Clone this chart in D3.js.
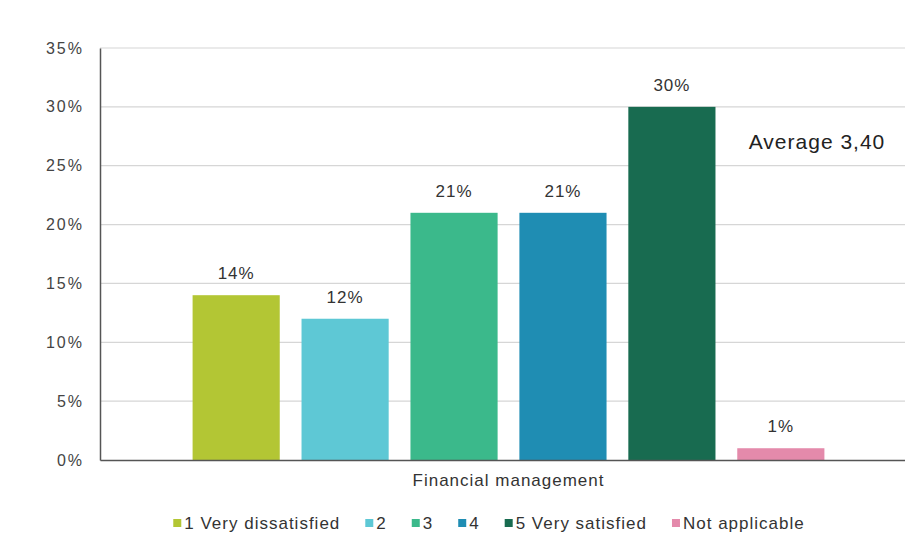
<!DOCTYPE html>
<html>
<head>
<meta charset="utf-8">
<script src="https://cdn.jsdelivr.net/npm/d3@7"></script>
<style>
  body { margin: 0; background: #fff; }
  text { font-family: "Liberation Sans", Arial, sans-serif; fill: #333; }
</style>
</head>
<body>
<svg id="chart" width="905" height="539"></svg>
<script>
const categories = ['Financial management'];
const seriesNames = ['1 Very dissatisfied', '2', '3', '4', '5 Very satisfied', 'Not applicable'];
const seriesValues = [14, 12, 21, 21, 30, 1];
const seriesColors = ['#b3c634', '#5ec8d5', '#3bb98b', '#1f8db3', '#186b50', '#e48aab'];
const yTicks = [0, 5, 10, 15, 20, 25, 30, 35];
const averageLabel = 'Average 3,40';

const margin = { top: 48, right: -12, bottom: 79, left: 100 };
const width = 905, height = 539;

const svg = d3.select('#chart');

const x0 = d3.scaleBand()
    .domain(categories)
    .range([margin.left, width - margin.right]);

const x1 = d3.scaleBand()
    .domain(seriesNames)
    .range([0, x0.bandwidth()])
    .paddingInner(0.2)
    .paddingOuter(0.85);

const y = d3.scaleLinear()
    .domain([0, 35])
    .range([height - margin.bottom, margin.top]);

// gridlines
svg.append('g')
    .selectAll('line')
    .data(yTicks.filter(d => d > 0))
    .join('line')
    .attr('x1', margin.left)
    .attr('x2', width)
    .attr('y1', d => y(d))
    .attr('y2', d => y(d))
    .attr('stroke', '#d6d6d6')
    .attr('stroke-width', 1.2);

// y axis
const yAxis = svg.append('g')
    .attr('transform', `translate(${margin.left},0)`)
    .call(d3.axisLeft(y).tickValues(yTicks).tickSize(0).tickPadding(16).tickFormat(d => d + '%'));
yAxis.select('.domain').attr('stroke', '#555').attr('stroke-width', 1.5);
yAxis.selectAll('text')
    .style('font-size', '16px')
    .style('letter-spacing', '2px')
    .style('fill', '#444')
    .attr('font-family', '"Liberation Sans", Arial, sans-serif');

// bars
const group = svg.append('g')
    .selectAll('g')
    .data(categories)
    .join('g')
    .attr('transform', d => `translate(${x0(d)},0)`);

const rows = seriesNames.map((name, i) => ({ name, value: seriesValues[i], color: seriesColors[i] }));

group.selectAll('rect')
    .data(rows)
    .join('rect')
    .attr('x', d => x1(d.name))
    .attr('y', d => y(d.value))
    .attr('width', x1.bandwidth())
    .attr('height', d => y(0) - y(d.value))
    .attr('fill', d => d.color);

group.selectAll('text.val')
    .data(rows)
    .join('text')
    .attr('class', 'val')
    .attr('x', d => x1(d.name) + x1.bandwidth() / 2)
    .attr('y', d => y(d.value) - 16)
    .attr('text-anchor', 'middle')
    .style('font-size', '17px')
    .style('letter-spacing', '1px')
    .text(d => d.value + '%');

// x axis
const xAxis = svg.append('g')
    .attr('transform', `translate(0,${y(0)})`)
    .call(d3.axisBottom(x0).tickSize(0).tickPadding(14));
xAxis.select('.domain').attr('stroke', '#555').attr('stroke-width', 1.5);
xAxis.selectAll('text')
    .style('font-size', '17px')
    .style('letter-spacing', '1px')
    .style('fill', '#333')
    .attr('font-family', '"Liberation Sans", Arial, sans-serif');

// average note
svg.append('text')
    .attr('x', 817)
    .attr('y', y(27) + 7)
    .attr('text-anchor', 'middle')
    .style('font-size', '21px')
    .style('letter-spacing', '1px')
    .style('fill', '#222')
    .text(averageLabel);

// legend
const legend = svg.append('g').attr('transform', 'translate(0,523)');
let cursor = 0;
const gap = 25;
const items = legend.selectAll('g')
    .data(rows)
    .join('g');
items.append('rect')
    .attr('width', 8)
    .attr('height', 8)
    .attr('y', -4)
    .attr('fill', d => d.color);
items.append('text')
    .attr('x', 11)
    .attr('dy', '0.35em')
    .style('font-size', '17px')
    .style('letter-spacing', '1px')
    .text(d => d.name);
items.each(function () {
    const w = this.getBBox().width;
    d3.select(this).attr('transform', `translate(${cursor},0)`);
    cursor += w + gap;
});
const total = cursor - gap;
legend.attr('transform', `translate(${489 - total / 2},523)`);
</script>
</body>
</html>
